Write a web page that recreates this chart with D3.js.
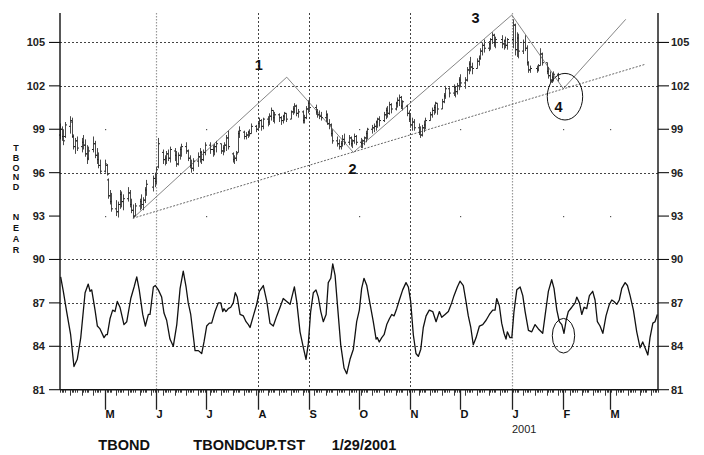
<!DOCTYPE html>
<html><head><meta charset="utf-8">
<script src="https://cdn.jsdelivr.net/npm/d3@7"></script>
<style>
html,body{margin:0;padding:0;background:#fff;}
svg{display:block;font-family:"Liberation Sans",Arial,Helvetica,sans-serif;}
</style></head><body>
<svg id="chart" width="704" height="455"></svg>
<script>
// ---------------- data ----------------
const startDate = "2000-04-04";
const endDate = "2001-03-30";
const barEndDate = "2001-01-29";

// daily price bars (one line per week, null = market holiday)
const highs = [
 99.4,99.2,99.0,99.5,
 99.9,99.8,98.6,98.4,98.5,
 98.4,98.6,98.3,97.9,97.8,
 98.5,98.2,97.7,97.4,96.9,
 96.9,96.6,95.6,94.8,94.6,
 94.1,94.0,94.8,94.7,94.5,
 95.0,94.8,94.2,93.8,93.9,
 94.2,94.5,94.3,95.0,95.5,
 null,95.8,96.0,96.4,98.4,
 97.6,97.2,97.5,97.6,97.8,
 97.7,97.5,97.4,97.8,98.0,
 98.1,97.6,97.2,96.9,97.0,
 97.4,97.7,97.5,97.6,98.1,
 98.1,null,97.9,98.0,98.2,
 98.0,97.9,98.1,98.6,98.9,
 97.4,97.2,97.5,98.9,99.2,
 98.9,98.8,98.9,99.0,99.4,
 99.3,99.5,99.8,99.7,99.8,
 99.9,100.1,100.5,100.3,100.2,
 100.1,99.9,100.0,100.2,100.1,
 100.3,100.6,100.8,100.7,100.4,
 100.3,100.0,100.6,101.0,101.1,
 null,100.7,100.4,100.3,100.2,
 100.3,100.1,99.7,99.4,99.0,
 98.5,98.3,98.2,98.6,98.7,
 98.6,98.5,98.3,98.7,98.6,
 98.4,98.3,98.5,98.9,99.1,
 99.3,99.4,99.6,99.8,99.9,
 100.2,100.5,100.6,100.9,100.8,
 100.9,101.2,101.4,101.3,101.0,
 100.7,100.3,100.0,99.8,99.7,
 99.4,99.2,99.3,99.6,99.8,
 100.2,100.5,100.7,100.9,100.8,
 101.1,101.5,102.0,null,101.9,
 102.1,102.0,102.2,102.6,102.8,
 102.6,103.3,103.7,104.0,103.6,
 103.9,104.1,104.6,105.0,105.2,
 105.1,105.3,105.7,105.6,105.4,
 null,105.5,105.2,105.4,105.3,
 null,106.6,106.3,105.7,105.6,
 105.2,105.5,104.8,103.7,103.4,
 null,103.4,103.5,104.6,104.3,
 103.6,103.3,103.0,102.9,103.0,
 102.9
];
const lows = [
 98.3,98.2,97.9,98.4,
 98.7,98.4,97.6,97.3,97.5,
 97.4,97.6,97.1,96.6,96.9,
 97.4,97.0,96.6,96.3,95.9,
 96.0,95.8,94.2,93.8,93.3,
 93.0,92.9,93.5,93.6,93.4,
 94.0,93.6,93.2,92.85,93.0,
 93.4,93.5,93.4,93.9,94.4,
 null,94.7,95.0,95.2,96.3,
 96.6,96.5,96.6,96.8,96.7,
 96.8,96.4,96.5,96.9,97.1,
 97.3,96.8,96.3,96.0,96.1,
 96.4,96.7,96.6,96.8,97.2,
 97.3,null,97.1,97.2,97.4,
 97.3,97.2,97.4,97.5,97.6,
 96.7,96.6,96.8,97.4,98.4,
 98.3,98.3,98.4,98.5,98.7,
 98.8,98.9,99.1,98.9,99.0,
 99.2,99.3,99.6,99.5,99.4,
 99.5,99.3,99.4,99.6,99.5,
 99.7,100.0,100.1,99.9,99.8,
 99.4,99.4,99.7,100.1,100.2,
 null,100.0,99.8,99.7,99.6,
 99.5,99.3,99.0,98.5,98.0,
 97.8,97.6,97.6,97.8,97.9,
 97.9,97.8,97.7,98.0,97.9,
 97.7,97.7,97.9,98.1,98.3,
 98.7,98.8,98.9,99.1,99.2,
 99.5,99.7,99.8,100.0,100.1,
 100.3,100.5,100.6,100.4,100.3,
 99.9,99.5,99.1,98.9,98.9,
 98.6,98.4,98.5,98.8,99.0,
 99.6,99.8,100.0,100.1,100.0,
 100.4,100.8,101.1,null,101.2,
 101.3,101.2,101.4,101.7,101.9,
 101.8,102.3,102.8,103.0,102.8,
 103.2,103.4,103.8,104.1,104.3,
 104.4,104.5,104.9,104.7,104.6,
 null,104.6,104.5,104.6,104.5,
 null,104.6,104.1,104.0,103.9,
 104.2,104.4,103.4,102.9,102.9,
 null,102.9,103.0,103.4,103.4,
 102.8,102.5,102.2,102.2,102.3,
 102.3
];
const opens = [
 98.6,99.0,98.5,98.5,
 99.2,99.5,98.5,97.8,98.2,
 97.8,98.1,97.9,97.3,97.0,
 97.6,98.0,97.2,96.9,96.5,
 96.1,96.5,95.5,94.4,94.0,
 93.5,93.3,93.8,94.5,94.0,
 94.2,94.6,93.8,93.4,93.0,
 93.7,94.0,93.8,94.1,94.8,
 null,95.0,95.6,95.4,96.4,
 97.4,96.9,97.0,97.3,97.0,
 97.5,97.2,96.6,97.2,97.6,
 97.8,97.5,97.0,96.5,96.3,
 96.8,97.1,97.4,96.9,97.4,
 97.9,null,97.6,97.5,97.8,
 98.0,97.5,97.7,97.9,98.4,
 97.3,96.9,97.0,97.4,98.7,
 98.8,98.5,98.6,98.8,98.7,
 99.2,99.0,99.4,99.6,99.2,
 99.7,99.5,99.9,100.3,99.8,
 100.0,99.8,99.6,99.9,100.1,
 99.7,100.2,100.4,100.6,100.1,
 100.2,99.6,99.8,100.4,100.8,
 null,100.5,100.2,100.0,99.9,
 99.8,100.0,99.4,99.3,98.7,
 98.2,98.0,97.8,98.0,98.3,
 98.1,98.4,98.0,98.2,98.5,
 98.1,98.0,98.2,98.4,98.7,
 99.0,99.1,99.2,99.5,99.7,
 99.6,100.0,100.3,100.1,100.7,
 100.4,100.8,101.0,101.2,100.6,
 100.6,100.1,99.7,99.3,99.5,
 99.1,98.8,98.6,99.1,99.3,
 99.6,100.0,100.3,100.5,100.8,
 100.4,100.9,101.3,null,101.8,
 101.5,101.9,101.6,102.0,102.4,
 102.2,102.4,103.1,103.5,103.3,
 103.2,103.7,103.9,104.4,104.8,
 104.6,104.9,105.2,105.5,105.0,
 null,105.2,104.9,105.1,104.8,
 null,105.2,106.2,104.5,105.3,
 104.4,105.0,104.6,103.6,103.1,
 null,103.2,103.1,103.4,104.2,
 103.6,103.0,102.7,102.4,102.6,
 102.8
];
const closes = [
 99.0,98.5,98.2,99.3,
 99.6,98.6,97.8,98.2,97.7,
 98.1,97.9,97.3,96.9,97.5,
 98.0,97.2,96.9,96.5,96.1,
 96.6,95.9,94.4,94.0,93.5,
 93.3,93.8,94.5,94.0,94.2,
 94.6,93.8,93.4,93.0,93.7,
 94.0,93.8,94.1,94.8,95.2,
 null,95.6,95.4,96.2,98.0,
 96.9,97.0,97.3,97.0,97.6,
 97.2,96.6,97.2,97.6,97.8,
 97.5,97.0,96.5,96.3,96.8,
 97.1,97.4,96.9,97.4,97.9,
 97.6,null,97.5,97.8,98.0,
 97.5,97.7,97.9,98.4,97.8,
 96.9,97.0,97.3,98.7,98.9,
 98.5,98.6,98.8,98.7,99.2,
 99.0,99.4,99.6,99.2,99.7,
 99.5,99.9,100.3,99.8,100.0,
 99.8,99.6,99.9,100.1,99.7,
 100.2,100.4,100.6,100.1,100.2,
 99.6,99.8,100.4,100.8,100.5,
 null,100.2,100.0,99.9,99.8,
 100.0,99.4,99.3,98.7,98.2,
 98.0,97.8,98.0,98.3,98.1,
 98.4,98.0,98.2,98.5,98.1,
 98.0,98.2,98.4,98.7,99.0,
 99.1,99.2,99.5,99.7,99.6,
 100.0,100.3,100.1,100.7,100.4,
 100.8,101.0,101.2,100.6,100.9,
 100.1,99.7,99.3,99.5,99.1,
 98.8,98.6,99.1,99.3,99.6,
 100.0,100.3,100.5,100.8,100.4,
 100.9,101.3,101.8,null,101.5,
 101.9,101.6,102.0,102.4,102.2,
 102.4,103.1,103.5,103.3,103.2,
 103.7,103.9,104.4,104.8,104.6,
 104.9,105.2,105.5,105.0,105.2,
 null,104.9,105.1,104.8,105.2,
 null,106.2,104.5,105.3,104.4,
 105.0,104.6,103.6,103.1,103.2,
 null,103.1,103.4,104.2,103.6,
 103.0,102.7,102.4,102.6,102.8,
 102.5
];

// oscillator: [days after start date, value]
const oscillator = [
 [0.4,88.8],[2.0,87.8],[4.0,86.4],[6.4,84.8],[8.4,82.6],[10.4,83.1],[12.5,84.6],[15.1,87.7],
 [17.0,88.3],[18.1,87.8],[19.1,87.9],[21.1,86.5],[22.5,85.4],[24.1,85.2],[26.5,84.6],[27.7,84.8],
 [28.5,84.8],[30.1,85.9],[31.7,86.5],[33.1,86.4],[34.5,87.1],[36.1,86.7],[38.5,85.5],[40.2,85.7],
 [42.6,87.3],[44.6,88.1],[46.2,88.8],[47.7,87.9],[49.8,86.2],[51.4,85.4],[53.2,86.2],[54.2,86.2],
 [56.2,88.1],[57.4,88.2],[59.2,87.9],[61.2,87.4],[62.6,86.3],[64.2,85.8],[66.2,84.5],[68.2,84.0],
 [70.3,85.5],[72.3,88.0],[74.2,89.2],[75.9,88.1],[77.2,87.0],[78.7,86.2],[81.3,83.7],[83.3,83.7],
 [85.3,83.5],[86.7,84.3],[88.3,85.4],[89.9,85.6],[91.3,85.6],[93.3,86.4],[95.3,87.0],[96.8,87.0],
 [98.0,86.4],[98.7,86.6],[99.9,86.4],[101.3,86.6],[102.8,86.7],[104.3,87.0],[105.5,87.7],[106.7,87.4],
 [108.4,86.2],[110.4,86.1],[112.0,85.7],[113.4,85.5],[114.4,85.3],[116.4,86.1],[118.4,86.9],[120.0,87.8],
 [122.4,88.2],[124.5,87.1],[126.4,85.6],[128.4,85.4],[130.5,86.1],[132.5,86.7],[134.4,87.3],[136.5,87.1],
 [138.5,86.9],[141.1,88.1],[142.5,87.1],[144.5,85.0],[146.5,83.9],[148.1,83.1],[149.5,84.2],[150.9,86.4],
 [152.5,87.7],[154.1,87.9],[155.5,87.4],[157.0,86.4],[158.5,85.7],[160.2,86.2],[161.5,88.4],[163.0,88.7],
 [164.2,89.7],[165.6,88.9],[167.0,86.9],[169.0,84.1],[171.0,82.5],[172.6,82.1],[174.6,83.1],[176.6,83.8],
 [178.6,85.7],[180.2,86.5],[181.6,88.0],[183.0,88.7],[184.7,88.2],[186.7,86.9],[188.6,85.7],[190.3,84.5],
 [191.0,84.6],[192.2,84.3],[193.7,84.6],[195.1,84.8],[196.7,85.5],[198.3,85.9],[199.7,86.2],[201.1,86.1],
 [202.7,86.6],[204.3,87.2],[206.3,87.9],[208.3,88.4],[209.7,88.1],[211.1,87.1],[212.7,84.8],[214.3,83.5],
 [215.7,83.3],[217.2,83.8],[218.7,85.3],[220.4,86.1],[222.3,86.5],[224.4,86.4],[226.4,85.7],[228.4,86.4],
 [229.8,86.0],[231.8,86.2],[233.8,86.4],[235.8,87.0],[237.2,87.5],[239.2,88.1],[240.8,88.5],[242.8,88.2],
 [244.4,87.1],[245.8,86.1],[247.3,85.3],[248.8,84.1],[250.5,84.6],[252.5,85.4],[254.5,85.5],[256.5,85.8],
 [258.5,86.2],[260.5,86.5],[261.9,86.5],[262.9,87.3],[264.5,86.8],[265.9,85.6],[267.3,84.9],[268.5,84.5],
 [269.3,85.0],[270.9,84.6],[272.0,84.6],[273.3,86.4],[275.0,87.9],[277.0,88.1],[278.6,87.5],[280.0,86.4],
 [282.0,85.1],[284.0,85.0],[286.0,85.5],[288.0,85.2],[290.6,84.9],[292.0,86.1],[294.0,87.8],[296.0,88.6],
 [297.4,88.0],[299.1,86.5],[300.6,85.7],[302.1,85.5],[303.4,84.9],[304.7,85.8],[306.0,86.4],[308.1,86.7],
 [310.1,87.0],[311.1,87.4],[312.7,87.0],[314.1,86.2],[315.5,86.7],[317.1,86.6],[318.7,87.5],[320.7,87.8],
 [322.1,87.2],[323.5,85.7],[325.1,85.4],[326.8,84.9],[328.7,86.1],[330.7,86.9],[332.2,87.2],[333.5,87.1],
 [335.2,86.9],[336.7,87.2],[338.2,88.0],[340.2,88.4],[341.6,88.2],[343.2,87.5],[345.2,86.5],[347.2,85.0],
 [349.2,83.9],[350.8,84.3],[352.2,83.9],[353.9,83.4],[355.2,84.6],[356.9,85.6],[358.2,85.7],[359.6,86.2]
];

// wave lines and support trend line (days after start, price)
const waveDays = [43.9,136.5,176.6,272.0,303.0,340.6];
const wavePrices = [92.85,102.6,97.4,106.9,101.8,106.6];
const supportDays = [43.9,352.6];
const supportPrices = [92.85,103.5];
const waveLabels = ["1","2","3","4"];
const waveLabelDays = [119.7,176.1,250.1,300.1];
const waveLabelPrices = [103.09,95.9,106.36,100.21];
const circleDays = [304.0,303.1];
const circlePrices = [101.25,84.73];

// axes
const yTicks = [81,84,87,90,93,96,99,102,105];
const gridLineLevels = [84,87,90,96,102,105];
const gridDotLevels = [93,99];
const monthDates = ["2000-05-01","2000-06-01","2000-07-01","2000-08-01","2000-09-01","2000-10-01","2000-11-01","2000-12-01","2001-01-01","2001-02-01","2001-03-01"];
const monthLabels = ["M","J","J","A","S","O","N","D","J","F","M"];
const gridMonthsDark = ["2000-08-01","2000-09-01","2000-11-01"];
const gridMonthsLight = ["2000-06-01","2001-01-01"];
const dotMonths = ["2000-05-01","2000-07-01","2000-10-01","2000-12-01","2001-02-01","2001-03-01"];
const yearLabel = {date:"2001-01-01", text:"2001"};
const footer = ["TBOND","TBONDCUP.TST","1/29/2001"];
const sideLetters = ["T","B","O","N","D","N","E","A","R"];

// ---------------- drawing ----------------
const parse = d3.timeParse("%Y-%m-%d");
const t0 = parse(startDate);
const dayDate = d => new Date(t0.getTime() + d*864e5);
const L = 60, R = 658, B = 389.7, T = 13;
const x = d3.scaleTime().domain([t0, parse(endDate)]).range([L, R]);
const y = d3.scaleLinear().domain([81,107]).range([B, 13.5]);
const svg = d3.select("#chart");

// grid
const g = svg.append("g");
g.selectAll("line.h").data(gridLineLevels).join("line")
  .attr("x1",L).attr("x2",R).attr("y1",d=>Math.round(y(d))+0.5).attr("y2",d=>Math.round(y(d))+0.5)
  .attr("stroke","#444").attr("stroke-width",1).attr("stroke-dasharray","2,2");
g.selectAll("line.vd").data(gridMonthsDark).join("line")
  .attr("x1",d=>Math.round(x(parse(d)))+0.5).attr("x2",d=>Math.round(x(parse(d)))+0.5)
  .attr("y1",T).attr("y2",B).attr("stroke","#444").attr("stroke-width",1).attr("stroke-dasharray","2,2");
g.selectAll("line.vl").data(gridMonthsLight).join("line")
  .attr("x1",d=>Math.round(x(parse(d)))+0.5).attr("x2",d=>Math.round(x(parse(d)))+0.5)
  .attr("y1",T).attr("y2",B).attr("stroke","#999").attr("stroke-width",1.2).attr("stroke-dasharray","1.5,1.5");
const dots = [];
dotMonths.forEach(m => gridDotLevels.forEach(v => dots.push([m,v])));
g.selectAll("rect.dot").data(dots).join("rect")
  .attr("x",d=>Math.round(x(parse(d[0])))).attr("y",d=>Math.round(y(d[1])))
  .attr("width",1.2).attr("height",1.2).attr("fill","#555");

// support and wave lines
const lineGen = d3.line().x(d=>x(dayDate(d[0]))).y(d=>y(d[1]));
svg.append("path").attr("d", lineGen(supportDays.map((d,i)=>[d,supportPrices[i]])))
  .attr("fill","none").attr("stroke","#555").attr("stroke-width",0.9).attr("stroke-dasharray","2,1.5");
svg.append("path").attr("d", lineGen(waveDays.map((d,i)=>[d,wavePrices[i]])))
  .attr("fill","none").attr("stroke","#666").attr("stroke-width",0.8);

// price bars
const tradeDays = d3.timeDays(t0, d3.timeDay.offset(parse(barEndDate),1)).filter(d=>d.getDay()>0 && d.getDay()<6);
const bars = tradeDays.map((d,i)=>({d, h:highs[i], l:lows[i], o:opens[i], c:closes[i]})).filter(b=>b.h!=null);
const bg = svg.append("g");
bars.forEach(b=>{
  const xi = Math.round(x(b.d))+0.5;
  bg.append("line").attr("x1",xi).attr("x2",xi).attr("y1",y(b.h)).attr("y2",y(b.l))
    .attr("stroke","#4a4a4a").attr("stroke-width",1);
  bg.append("line").attr("x1",xi-1.5).attr("x2",xi).attr("y1",y(b.o)).attr("y2",y(b.o))
    .attr("stroke","#222").attr("stroke-width",1);
  bg.append("line").attr("x1",xi).attr("x2",xi+1.5).attr("y1",y(b.c)).attr("y2",y(b.c))
    .attr("stroke","#222").attr("stroke-width",1);
});

// oscillator
svg.append("path").attr("d", d3.line().x(d=>x(dayDate(d[0]))).y(d=>y(d[1]))(oscillator))
  .attr("fill","none").attr("stroke","#111").attr("stroke-width",1.3).attr("stroke-linejoin","round");

// circles
const rads = [[17.7,23.3],[11.2,17.3]];
svg.selectAll("ellipse").data(circleDays).join("ellipse")
  .attr("cx",(d,i)=>x(dayDate(d))).attr("cy",(d,i)=>y(circlePrices[i]))
  .attr("rx",(d,i)=>rads[i][0]).attr("ry",(d,i)=>rads[i][1])
  .attr("fill","none").attr("stroke","#111").attr("stroke-width",1);

// wave labels
svg.selectAll("text.wl").data(waveLabels).join("text")
  .attr("x",(d,i)=>x(dayDate(waveLabelDays[i]))).attr("y",(d,i)=>y(waveLabelPrices[i]))
  .attr("text-anchor","middle").attr("font-size",14.5).attr("font-weight","bold").attr("fill","#111").text(d=>d);

// axes frame
const ax = svg.append("g").attr("stroke","#111").attr("stroke-width",1.4);
ax.append("line").attr("x1",L).attr("x2",L).attr("y1",T).attr("y2",B);
ax.append("line").attr("x1",R).attr("x2",R).attr("y1",T).attr("y2",B);
ax.append("line").attr("x1",L).attr("x2",R).attr("y1",B).attr("y2",B);

// y ticks and labels
yTicks.forEach(v=>{
  const yy = y(v);
  ax.append("line").attr("x1",49).attr("x2",L).attr("y1",yy).attr("y2",yy).attr("stroke-width",1.1);
  ax.append("line").attr("x1",R).attr("x2",669).attr("y1",yy).attr("y2",yy).attr("stroke-width",1.1);
});
svg.selectAll("text.yl").data(yTicks).join("text")
  .attr("x",45).attr("y",d=>y(d)).attr("dy","0.36em").attr("text-anchor","end")
  .attr("font-size",11).attr("font-weight","bold").attr("fill","#222").text(d=>d);
svg.selectAll("text.yr").data(yTicks).join("text")
  .attr("x",671).attr("y",d=>y(d)).attr("dy","0.36em").attr("text-anchor","start")
  .attr("font-size",11).attr("font-weight","bold").attr("fill","#222").text(d=>d);

// x minor ticks
const allDays = d3.timeDays(t0, d3.timeDay.offset(parse(endDate),1)).filter(d=>d.getDay()>0 && d.getDay()<6);
const tg = svg.append("g").attr("stroke","#222").attr("stroke-width",0.9);
allDays.forEach(d=>{
  const xi = Math.round(x(d))+0.5;
  tg.append("line").attr("x1",xi).attr("x2",xi).attr("y1",B).attr("y2",B+(d.getDay()===1?6:3));
});
// month ticks + labels
monthDates.forEach((m,i)=>{
  const xi = Math.round(x(parse(m)))+0.5;
  tg.append("line").attr("x1",xi).attr("x2",xi).attr("y1",B).attr("y2",B+20).attr("stroke-width",1.3);
  svg.append("text").attr("x",xi).attr("y",417.7).attr("font-size",11).attr("font-weight","bold")
    .attr("fill","#111").text(monthLabels[i]);
});
svg.append("text").attr("x",Math.round(x(parse(yearLabel.date)))).attr("y",433.3)
  .attr("font-size",11).attr("fill","#222").text(yearLabel.text);

// footer
const fx = [98.3,193.3,331.7];
footer.forEach((t,i)=>{
  svg.append("text").attr("x",fx[i]).attr("y",449.5).attr("font-size",14.5).attr("font-weight","bold")
    .attr("fill","#111").text(t);
});

// vertical side label
const sy = [151,160.8,170.6,180.4,190.2,220,231,242,253];
sideLetters.forEach((c,i)=>{
  svg.append("text").attr("x",16).attr("y",sy[i]).attr("text-anchor","middle").attr("font-size",9)
    .attr("font-weight","bold").attr("fill","#111").text(c);
});
</script>
</body></html>
